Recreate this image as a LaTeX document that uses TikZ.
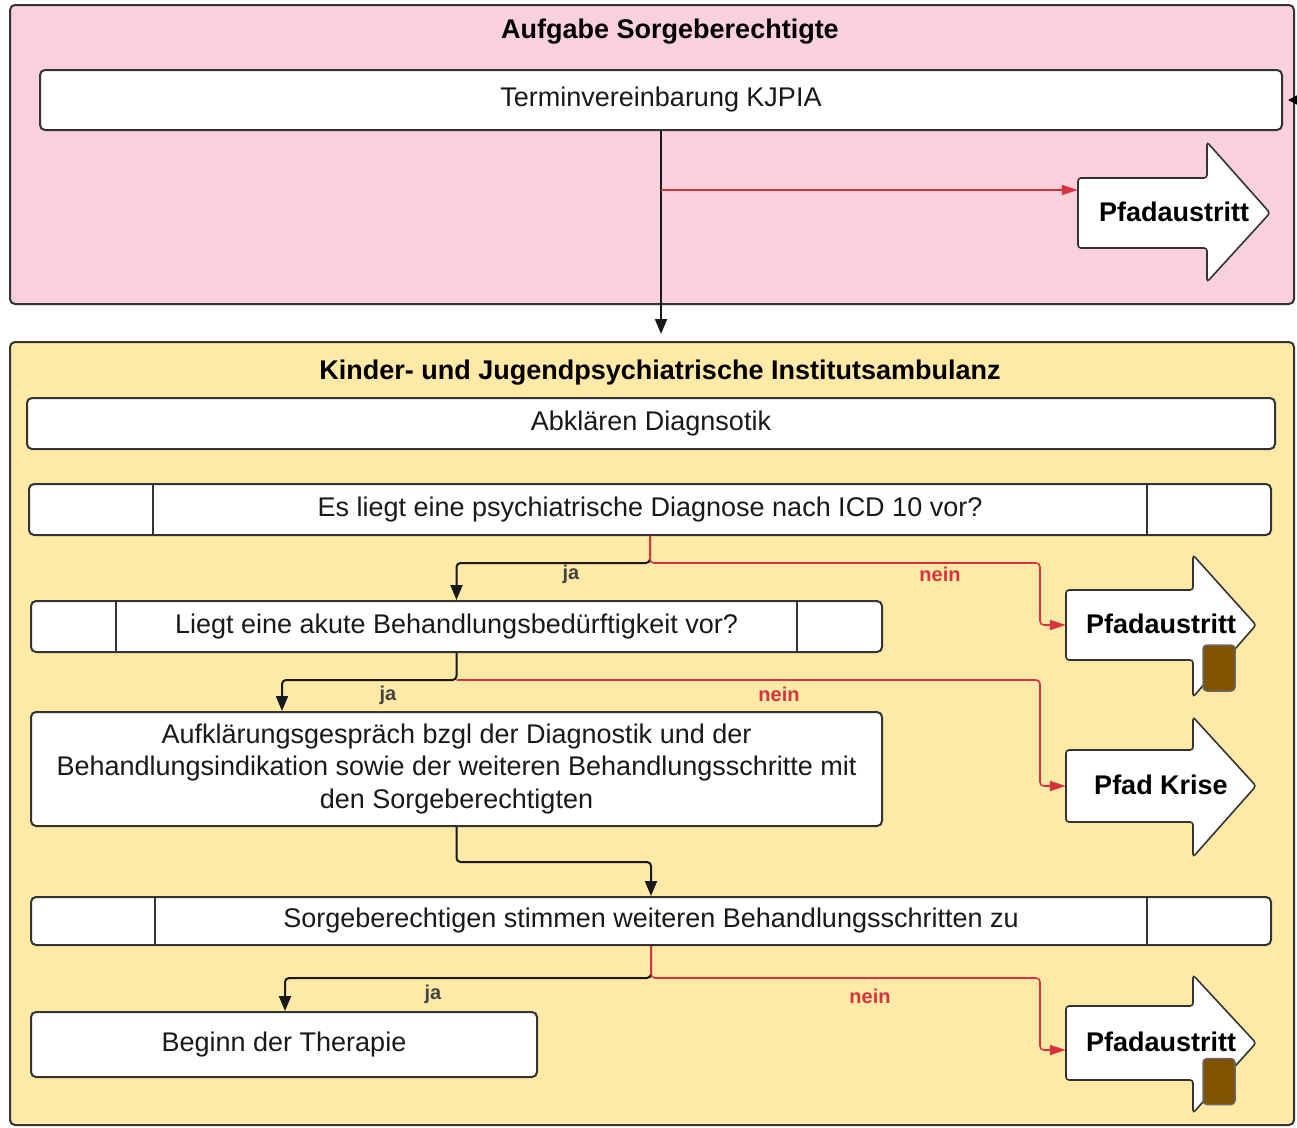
\documentclass[tikz,border=0pt]{standalone}
\usepackage{fontspec}
\setmainfont{Liberation Sans}
\usetikzlibrary{arrows.meta}
\definecolor{pinkbg}{HTML}{F9D1DC}
\definecolor{yellowbg}{HTML}{FEE9A6}
\definecolor{edgecol}{HTML}{333333}
\definecolor{redline}{HTML}{D6333F}
\definecolor{brownbox}{HTML}{7F5300}
\definecolor{jagray}{HTML}{444444}
\newcommand\mainsize{\fontsize{27}{32.5}\selectfont}
\newcommand\pathexit[9]{%
  \draw[exitstyle] (#2,#5) -- (#3,#5) -- (#3,#7) -- (#4,{(#5+#6)/2}) -- (#3,#8) -- (#3,#6) -- (#2,#6) -- cycle;
  \node[inner sep=0pt, minimum width={#3-#2}, minimum height={#6-#5}] (#1body) at ({(#2+#3)/2},{(#5+#6)/2}) {};
  \node[exittext] (#1) at ({(#2+#4)/2},{(#5+#6)/2-1}) {#9};
}
\tikzset{
  container/.style={draw=edgecol, line width=2pt, rounded corners=5pt, inner sep=0pt},
  boxnode/.style={draw=edgecol, fill=white, line width=2pt, rounded corners=5pt, inner sep=0pt, font=\mainsize, align=center, text=black!90},
  divider/.style={draw=edgecol, line width=2pt},
  titletext/.style={font=\mainsize\bfseries, inner sep=0pt},
  exitstyle/.style={draw=edgecol, fill=white, line width=1.6pt, rounded corners=3pt},
  exittext/.style={font=\mainsize\bfseries, inner sep=0pt},
  tagbox/.style={draw=gray!80!black, fill=brownbox, line width=1.5pt, rounded corners=4pt, minimum width=32pt, minimum height=46pt, inner sep=0pt},
  blackarrow/.style={draw=black!90, line width=2pt, rounded corners=4pt, -{Triangle[length=15pt,width=12pt]}},
  redarrow/.style={draw=redline, line width=1.6pt, rounded corners=4pt, -{Triangle[length=16pt,width=10pt]}},
  jalabel/.style={font=\fontsize{20}{24}\selectfont\bfseries, text=jagray, inner sep=0pt},
  neinlabel/.style={font=\fontsize{20}{24}\selectfont\bfseries, text=redline, inner sep=0pt},
}
\begin{document}
\begin{tikzpicture}[x=1pt, y=-1pt]
\useasboundingbox (0,0) rectangle (1297,1127);
\fill[white] (0,0) rectangle (1297,1127);

% containers
\node[container, fill=pinkbg, minimum width=1284pt, minimum height=299pt] (sorge) at (652,154.5) {};
\node[titletext] (sorgetitle) at (670,32) {Aufgabe Sorgeberechtigte};
\node[container, fill=yellowbg, minimum width=1284pt, minimum height=783pt] (kjp) at (652,733.5) {};
\node[titletext] (kjptitle) at (660,373) {Kinder- und Jugendpsychiatrische Institutsambulanz};

% boxes
\node[boxnode, minimum width=1242pt, minimum height=60pt] (termin) at (661,100) {Terminvereinbarung KJPIA};
\node[boxnode, minimum width=1248pt, minimum height=51pt] (abkl) at (651,423.5) {Abklären Diagnsotik};
\node[boxnode, minimum width=1242pt, minimum height=51pt] (q1) at (650,509.5) {Es liegt eine psychiatrische Diagnose nach ICD 10 vor?};
\draw[divider] (153,0 |- q1.north) -- (153,0 |- q1.south);
\draw[divider] (1147,0 |- q1.north) -- (1147,0 |- q1.south);
\node[boxnode, minimum width=851pt, minimum height=51pt] (q2) at (456.5,626.5) {Liegt eine akute Behandlungsbedürftigkeit vor?};
\draw[divider] (116,0 |- q2.north) -- (116,0 |- q2.south);
\draw[divider] (797,0 |- q2.north) -- (797,0 |- q2.south);
\node[boxnode, minimum width=851pt, minimum height=114pt] (aufk) at (456.5,769) {Aufklärungsgespräch bzgl der Diagnostik und der\\Behandlungsindikation sowie der weiteren Behandlungsschritte mit\\den Sorgeberechtigten};
\node[boxnode, minimum width=1240pt, minimum height=48pt] (q3) at (651,921) {Sorgeberechtigen stimmen weiteren Behandlungsschritten zu};
\draw[divider] (155,0 |- q3.north) -- (155,0 |- q3.south);
\draw[divider] (1147,0 |- q3.north) -- (1147,0 |- q3.south);
\node[boxnode, minimum width=506pt, minimum height=65pt] (beginn) at (284,1044.5) {Beginn der Therapie};

% exit arrows
\pathexit{pa1}{1078}{1207}{1270}{178}{248}{142}{282}{Pfadaustritt}
\pathexit{pa2}{1066}{1193}{1256}{590}{660}{555}{697}{Pfadaustritt}
\pathexit{pk}{1066}{1193}{1256}{750}{822}{717}{857}{Pfad Krise}
\pathexit{pa3}{1066}{1193}{1256}{1006}{1080}{975}{1113}{Pfadaustritt}
\node[tagbox] (tag2) at (1219,668) {};
\node[tagbox] (tag3) at (1219,1081.5) {};

% connectors top
\coordinate (extin) at (1297,100);
\draw[draw=black, line width=2pt, -{Triangle[length=10pt,width=10pt]}, shorten >=5pt] (extin) -- (termin.east);
\draw[blackarrow, shorten >=7pt] (termin.south) -- (termin.south |- kjp.north);
\coordinate (br0) at (661,190);
\draw[redarrow] (br0) -- (br0 -| pa1body.west);

% q1
\coordinate (s1) at (650,563);
\coordinate (r1) at (1040,563);
\draw[blackarrow] (q1.south) -- (s1) -| (q2.north);
\draw[redarrow] (q1.south) -- (s1) -- (r1) |- (pa2body.west);
\node[jalabel] (ja1) at (571,574) {ja};
\node[neinlabel] (nein1) at (940,574) {nein};

% q2
\coordinate (s2) at (456.5,680);
\coordinate (r2) at (1040,680);
\draw[redarrow] (s2) -- (r2) |- (pkbody.west);
\draw[blackarrow] (q2.south) -- (s2) -| (282,0 |- aufk.north);
\node[jalabel] (ja2) at (388,695) {ja};
\node[neinlabel] (nein2) at (779,694) {nein};

% aufk
\coordinate (s4) at (456.5,862);
\draw[blackarrow] (aufk.south) -- (s4) -| (q3.north);

% q3
\coordinate (s3) at (651,978);
\coordinate (r3) at (1040,978);
\draw[blackarrow] (q3.south) -- (s3) -| (285,0 |- beginn.north);
\draw[redarrow] (q3.south) -- (s3) -- (r3) |- ([yshift=-7pt]pa3body.west);
\node[jalabel] (ja3) at (433,994) {ja};
\node[neinlabel] (nein3) at (870,996) {nein};
\end{tikzpicture}
\end{document}
